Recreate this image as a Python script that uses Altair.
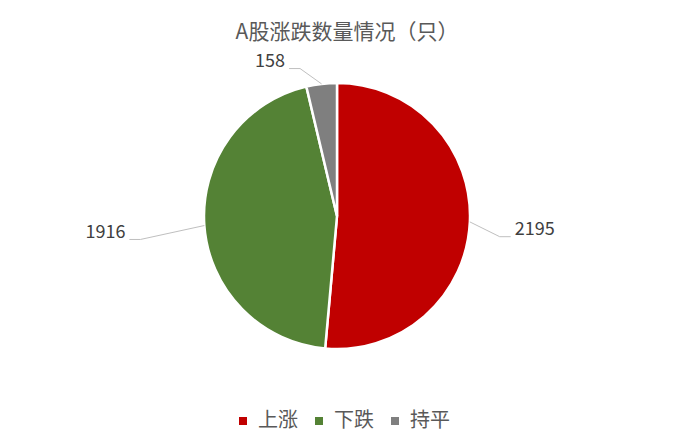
import math
import altair as alt
import pandas as pd

# ---- data ----
categories = ["上涨", "下跌", "持平"]
counts = [2195, 1916, 158]
colors = ["#C00000", "#548235", "#7F7F7F"]
title_text = "A股涨跌数量情况（只）"

# ---- layout constants ----
W, H = 668, 380
PAD_TOP = 50
CX, CY, R = 329, 158, 133
ELBOW_R = [164, 198, 152]      # radial distance of leader elbow
ELBOW_DA = [4.7, -2.7, -7.4]   # angular shift of elbow (deg)
TAIL = 11
FONT = "Noto Sans CJK SC"

pie_df = pd.DataFrame({"cat": categories, "count": counts, "idx": list(range(len(categories)))})

total = sum(counts)
line_rows, label_rows = [], []
cum = 0
for i, (cat, c) in enumerate(zip(categories, counts)):
    start = cum / total * 360
    cum += c
    end = cum / total * 360
    mid = math.radians((start + end) / 2)
    ex, ey = CX + R * math.sin(mid), CY - R * math.cos(mid)
    ea = mid + math.radians(ELBOW_DA[i])
    bx, by = CX + ELBOW_R[i] * math.sin(ea), CY - ELBOW_R[i] * math.cos(ea)
    side = 1 if math.sin(ea) > 0 else -1
    tx, ty = bx + side * TAIL, by
    for k, (px, py) in enumerate([(ex, ey), (bx, by), (tx, ty)]):
        line_rows.append({"cat": cat, "k": k, "x": px, "y": py})
    label_rows.append({"cat": cat, "text": str(c), "x": tx + side * 4, "y": by - 6.5,
                       "side": "right" if side > 0 else "left"})

lines_df = pd.DataFrame(line_rows)
labels_df = pd.DataFrame(label_rows)

xs = alt.X("x:Q", scale=alt.Scale(domain=[0, W], nice=False, zero=False), axis=None)
ys = alt.Y("y:Q", scale=alt.Scale(domain=[0, H], nice=False, zero=False, reverse=True), axis=None)

pie = alt.Chart(pie_df).mark_arc(outerRadius=R, stroke="white", strokeWidth=2.5).encode(
    theta=alt.Theta("count:Q", stack=True),
    color=alt.Color(
        "cat:N",
        scale=alt.Scale(domain=categories, range=colors),
        sort=categories,
        legend=alt.Legend(
            title=None, orient="none", legendX=225, legendY=353, direction="horizontal",
            symbolType="square", symbolSize=64, symbolStrokeWidth=0,
            labelFont=FONT, labelFontSize=20, labelColor="#595959",
            labelOffset=5, columnPadding=11, padding=0,
        ),
    ),
    order=alt.Order("idx:Q"),
    x=alt.value(CX),
    y=alt.value(CY),
)

leaders = alt.Chart(lines_df).mark_line(color="#BFBFBF", strokeWidth=1).encode(
    x=xs, y=ys, detail="cat:N", order="k:Q"
)

text_right = alt.Chart(labels_df).transform_filter(alt.datum.side == "right").mark_text(
    align="left", baseline="middle", font=FONT, fontSize=18, color="#404040"
).encode(x=xs, y=ys, text="text:N")

text_left = alt.Chart(labels_df).transform_filter(alt.datum.side == "left").mark_text(
    align="right", baseline="middle", font=FONT, fontSize=18, color="#404040"
).encode(x=xs, y=ys, text="text:N")

chart = alt.layer(pie, leaders, text_right, text_left).properties(
    width=W,
    height=H,
    autosize=alt.AutoSizeParams(type="none"),
    padding={"top": PAD_TOP, "left": 0, "right": 0, "bottom": 0},
    title=alt.TitleParams(
        title_text, font=FONT, fontSize=21, fontWeight="normal", color="#595959",
        anchor="middle", frame="group", offset=10, dx=5,
    ),
).configure_view(strokeWidth=0)

chart.save("out.html", embed_options={"renderer": "svg", "actions": False})
